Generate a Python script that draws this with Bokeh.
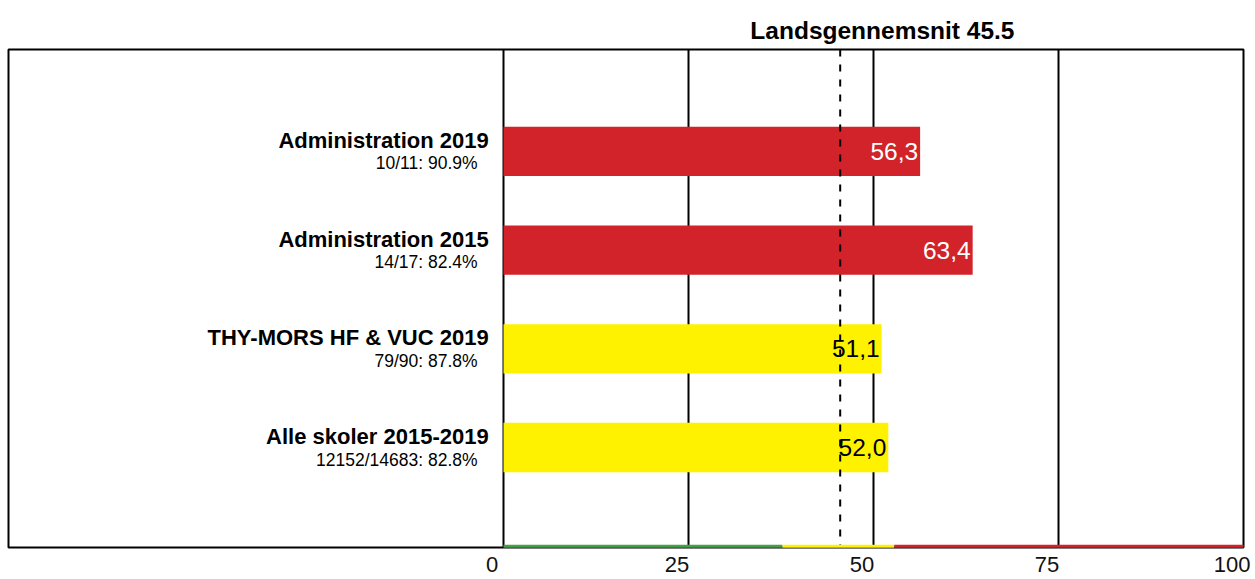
from bokeh.plotting import figure
from bokeh.models import Range1d, LinearAxis, FixedTicker, ColumnDataSource, Span, Grid
from bokeh.embed import file_html
from bokeh.resources import INLINE
from bokeh.core.properties import value

categories = ["Administration 2019", "Administration 2015", "THY-MORS HF & VUC 2019", "Alle skoler 2015-2019"]
sublabels = ["10/11: 90.9%", "14/17: 82.4%", "79/90: 87.8%", "12152/14683: 82.8%"]
values = [56.3, 63.4, 51.1, 52.0]
value_labels = ["56,3", "63,4", "51,1", "52,0"]
bar_colors = ["#d2232a", "#d2232a", "#fff200", "#fff200"]
label_colors = ["white", "white", "black", "black"]
average = 45.5
title_text = "Landsgennemsnit 45.5"
tick_values = [0, 25, 50, 75, 100]
band_edges = [0, 37.7, 52.8, 100]
band_colors = ["#43a047", "#fff200", "#d2232a"]

FONT = "Liberation Sans"
positions = [4, 3, 2, 1]

x0, x1 = -66.89, 100
y0, y1 = -0.013, 5.033

src = ColumnDataSource(dict(
    y=positions, value=values, vlabel=value_labels, color=bar_colors,
    lcolor=label_colors, cat=categories, sub=sublabels,
    ycat=[v + 0.111 for v in positions], ysub=[v - 0.122 for v in positions],
    yval=[v + 0.0 for v in positions],
))

p = figure(width=1253, height=578, x_range=Range1d(x0, x1), y_range=Range1d(y0, y1),
           output_backend="svg", toolbar_location=None, title=title_text,
           x_axis_location=None, y_axis_location=None,
           min_border_left=8, min_border_right=10, min_border_top=49, min_border_bottom=31)
p.title.align = "right"
p.title.offset = 229
p.title.text_font = FONT
p.title.text_font_size = "24.5px"
p.title.text_font_style = "bold"
p.title.text_color = "black"
p.title.standoff = 12

p.outline_line_color = "black"
p.outline_line_width = 2
p.outline_line_alpha = 1.0
for g in p.grid:
    g.visible = False

grid = Grid(dimension=0, ticker=FixedTicker(ticks=tick_values[:-1]),
            grid_line_color="black", grid_line_width=2)
p.add_layout(grid)

p.hbar(y="y", left=0, right="value", height=0.5, fill_color="color", line_color=None, source=src)

p.add_layout(Span(location=average, dimension="height", line_color="black",
                  line_width=2, line_dash="7 8"))

p.text(x="value", y="yval", text="vlabel", source=src, text_align="right",
       text_baseline="middle", x_offset=-2, text_color="lcolor",
       text_font=value(FONT), text_font_size="24.5px")

p.text(x=-2.0, y="ycat", text="cat", source=src, text_align="right",
       text_baseline="middle", text_color="black", text_font_style="bold",
       text_font=value(FONT), text_font_size="22px")
p.text(x=-3.5, y="ysub", text="sub", source=src, text_align="right",
       text_baseline="middle", text_color="black",
       text_font=value(FONT), text_font_size="17.5px")

p.segment(x0=band_edges[:-1], y0=[y0 + 0.012] * 3, x1=band_edges[1:], y1=[y0 + 0.012] * 3,
          line_color=band_colors, line_width=3, level="overlay")

p.extra_x_ranges = {"ticks": Range1d(x0 + 1.55, x1 + 1.55)}
ax = LinearAxis(x_range_name="ticks", ticker=FixedTicker(ticks=tick_values),
                axis_line_color=None, major_tick_line_color=None, minor_tick_line_color=None,
                major_label_text_font_size="22px", major_label_standoff=3,
                major_label_text_font=FONT, major_label_text_color="#111111")
p.add_layout(ax, "below")

open("out.html", "w").write(file_html(p, INLINE))
